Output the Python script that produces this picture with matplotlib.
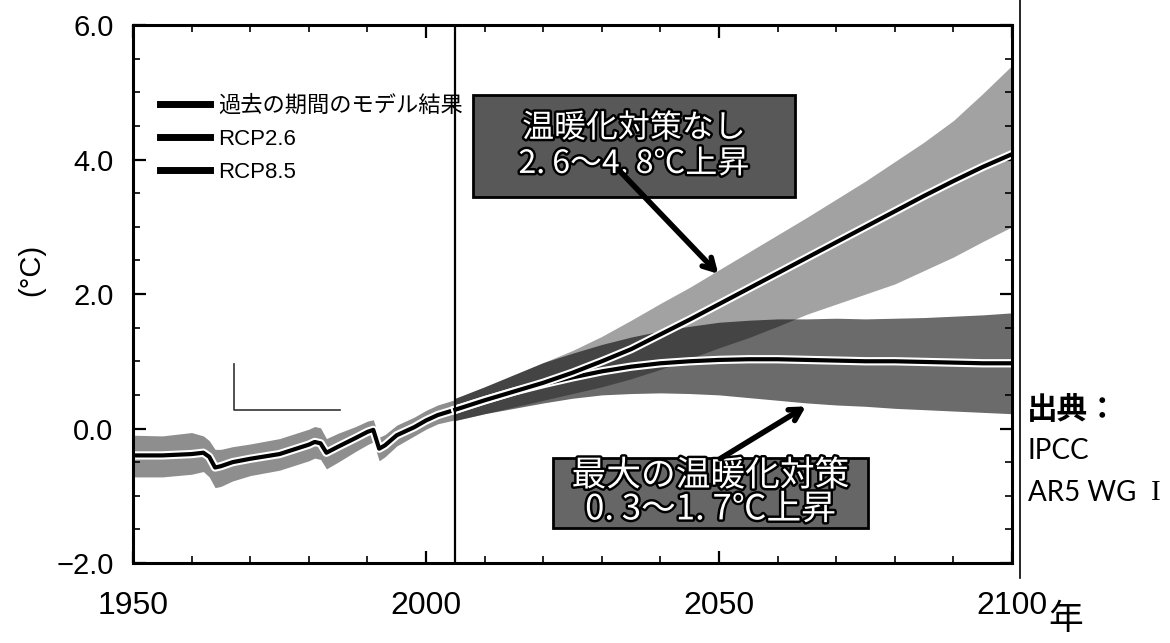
import matplotlib
matplotlib.use("Agg")
import matplotlib.pyplot as plt
import matplotlib.patheffects as pe
from matplotlib.lines import Line2D
from matplotlib.patches import Rectangle
from matplotlib.ticker import MultipleLocator, FuncFormatter

plt.rcParams['font.family'] = ['Liberation Sans', 'Noto Sans CJK JP']

# --- データ ---
hist_years = [1950, 1955, 1960, 1962, 1963, 1964, 1965, 1967, 1970, 1975, 1980, 1981,
              1982, 1983, 1985, 1988, 1990, 1991, 1992, 1993, 1995, 1998, 2000, 2002, 2005]
hist_mean = [-0.40, -0.40, -0.38, -0.36, -0.42, -0.58, -0.56, -0.50, -0.45, -0.38, -0.24, -0.20,
             -0.22, -0.36, -0.27, -0.14, -0.05, -0.02, -0.30, -0.25, -0.10, 0.02, 0.12, 0.20, 0.28]
hist_upper = [-0.10, -0.11, -0.06, -0.11, -0.18, -0.31, -0.31, -0.27, -0.23, -0.15, -0.01, 0.03,
              0.01, -0.15, -0.07, 0.03, 0.11, 0.13, -0.13, -0.09, 0.05, 0.17, 0.27, 0.35, 0.43]
hist_lower = [-0.72, -0.72, -0.68, -0.64, -0.72, -0.88, -0.86, -0.78, -0.70, -0.62, -0.48, -0.44,
              -0.46, -0.60, -0.50, -0.34, -0.24, -0.20, -0.48, -0.42, -0.26, -0.11, -0.01, 0.07, 0.13]

proj_years = [2005, 2010, 2015, 2020, 2025, 2030, 2035, 2040, 2045, 2050,
              2055, 2060, 2065, 2070, 2075, 2080, 2085, 2090, 2095, 2100]
rcp26_mean = [0.28, 0.42, 0.55, 0.66, 0.76, 0.85, 0.92, 0.97, 1.00, 1.02,
              1.03, 1.03, 1.02, 1.01, 1.00, 1.00, 0.99, 0.98, 0.97, 0.97]
rcp26_upper = [0.45, 0.62, 0.80, 0.98, 1.12, 1.25, 1.36, 1.45, 1.52, 1.58,
               1.61, 1.63, 1.63, 1.64, 1.63, 1.64, 1.65, 1.67, 1.69, 1.72]
rcp26_lower = [0.12, 0.22, 0.30, 0.38, 0.45, 0.50, 0.52, 0.53, 0.52, 0.50,
               0.46, 0.42, 0.38, 0.35, 0.33, 0.30, 0.28, 0.26, 0.24, 0.22]
rcp85_mean = [0.28, 0.42, 0.55, 0.68, 0.83, 1.00, 1.18, 1.40, 1.62, 1.85,
              2.08, 2.31, 2.54, 2.77, 3.00, 3.23, 3.46, 3.68, 3.89, 4.08]
rcp85_upper = [0.45, 0.62, 0.80, 0.98, 1.16, 1.37, 1.61, 1.86, 2.10, 2.36,
               2.62, 2.88, 3.14, 3.41, 3.68, 3.97, 4.26, 4.58, 4.98, 5.40]
rcp85_lower = [0.12, 0.22, 0.32, 0.42, 0.52, 0.62, 0.74, 0.88, 1.04, 1.20,
               1.35, 1.52, 1.70, 1.85, 2.00, 2.15, 2.35, 2.55, 2.78, 3.00]

legend_labels = ['過去の期間のモデル結果', 'RCP2.6', 'RCP8.5']
x_ticks = [1950, 2000, 2050, 2100]
y_ticks = [-2.0, 0.0, 2.0, 4.0, 6.0]
split_year = 2005

# 左下に残っているL字の線
bracket_x = [1967.2, 1967.2, 1985.3]
bracket_y = [0.96, 0.27, 0.27]

fig = plt.figure(figsize=(11.7, 6.43), dpi=100)
ax = fig.add_axes([0.1137, 0.1244, 0.7513, 0.8367])

halo = [pe.Stroke(linewidth=6, foreground='white'), pe.Normal()]

# 帯
ax.fill_between(hist_years, hist_lower, hist_upper, color='#8e8e8e', lw=0)
ax.fill_between(proj_years, rcp85_lower, rcp85_upper, color='#a2a2a2', lw=0)
ax.fill_between(proj_years, rcp26_lower, rcp26_upper, color='black', alpha=0.58, lw=0)

# 平均線
ax.plot(hist_years, hist_mean, color='black', lw=3, path_effects=halo)
ax.plot(proj_years, rcp26_mean, color='black', lw=3, path_effects=halo)
ax.plot(proj_years, rcp85_mean, color='black', lw=3, path_effects=halo)

ax.axvline(split_year, color='black', lw=1.6)
ax.plot(bracket_x, bracket_y, color='#333333', lw=1.2)

ax.set_xlim(1950, 2100)
ax.set_ylim(-2, 6)
ax.set_xticks(x_ticks)
ax.set_yticks(y_ticks)
ax.yaxis.set_major_formatter(FuncFormatter(lambda v, p: f'{v:.1f}'.replace('-', '\u2212')))
ax.xaxis.set_minor_locator(MultipleLocator(10))
ax.yaxis.set_minor_locator(MultipleLocator(0.5))
ax.tick_params(which='both', direction='in', top=True, right=True)
ax.tick_params(which='major', length=9, width=1.6)
ax.tick_params(which='minor', length=5, width=1.2)
ax.tick_params(axis='x', labelsize=23, pad=20)
ax.tick_params(axis='y', labelsize=21, pad=14)
for s in ax.spines.values():
    s.set_linewidth(2.2)

ax.set_ylabel('(°C)', fontsize=21)
ax.yaxis.set_label_coords(-0.100, 0.545)

# 凡例
handles = [Line2D([], [], color='black', lw=5) for _ in legend_labels]
ax.legend(handles, legend_labels, loc='upper left', bbox_to_anchor=(0.031, 0.87),
          frameon=False, fontsize=16, handlelength=2.25, handletextpad=0.35,
          labelspacing=0.55, borderpad=0, borderaxespad=0)

# 注釈ボックス
outline = [pe.withStroke(linewidth=3.5, foreground='black')]
ax.add_patch(Rectangle((0.387, 0.680), 0.366, 0.190, transform=ax.transAxes,
                       facecolor='#585858', edgecolor='black', lw=2, zorder=5))
ax.text(0.570, 0.775, '温暖化対策なし\n2. 6～4. 8℃上昇', transform=ax.transAxes,
        ha='center', va='center', fontsize=23, color='white', linespacing=1.15,
        family='Noto Sans CJK JP', path_effects=outline, zorder=6)
ax.add_patch(Rectangle((0.478, 0.065), 0.358, 0.130, transform=ax.transAxes,
                       facecolor='#666666', edgecolor='black', lw=2, zorder=5))
ax.text(0.657, 0.130, '最大の温暖化対策\n0. 3～1. 7℃上昇', transform=ax.transAxes,
        ha='center', va='center', fontsize=25, color='white', linespacing=0.95,
        family='Noto Sans CJK JP', path_effects=outline, zorder=6)

arrow = dict(arrowstyle='->,head_length=0.8,head_width=0.45', color='black', lw=4)
ax.annotate('', xy=(2050.2, 2.27), xytext=(2032.6, 3.87), arrowprops=arrow, zorder=7)
ax.annotate('', xy=(2065.2, 0.35), xytext=(2049.8, -0.47), arrowprops=arrow, zorder=7)

# 右側
fig.add_artist(Line2D([1020 / 1170, 1020 / 1170], [1.0, 1 - 578 / 643],
                      transform=fig.transFigure, color='black', lw=1.2))
fig.text(1066 / 1170, 1 - 620 / 643, '年', fontsize=25, ha='center', va='center',
         family='Noto Sans CJK JP')
fig.text(1027 / 1170, 1 - 410 / 643, '出典：', fontsize=22, fontweight='bold',
         ha='left', va='center', family='Noto Sans CJK JP')
fig.text(1028 / 1170, 1 - 451 / 643, 'IPCC', fontsize=20, ha='left', va='center',
         family='Lato')
fig.text(1028 / 1170, 1 - 493 / 643, 'AR5 WG', fontsize=20, ha='left', va='center',
         family='Lato')
fig.text(1156 / 1170, 1 - 493 / 643, 'I', fontsize=21, ha='center', va='center',
         family='Liberation Serif')

fig.savefig('out.png', dpi=100)
